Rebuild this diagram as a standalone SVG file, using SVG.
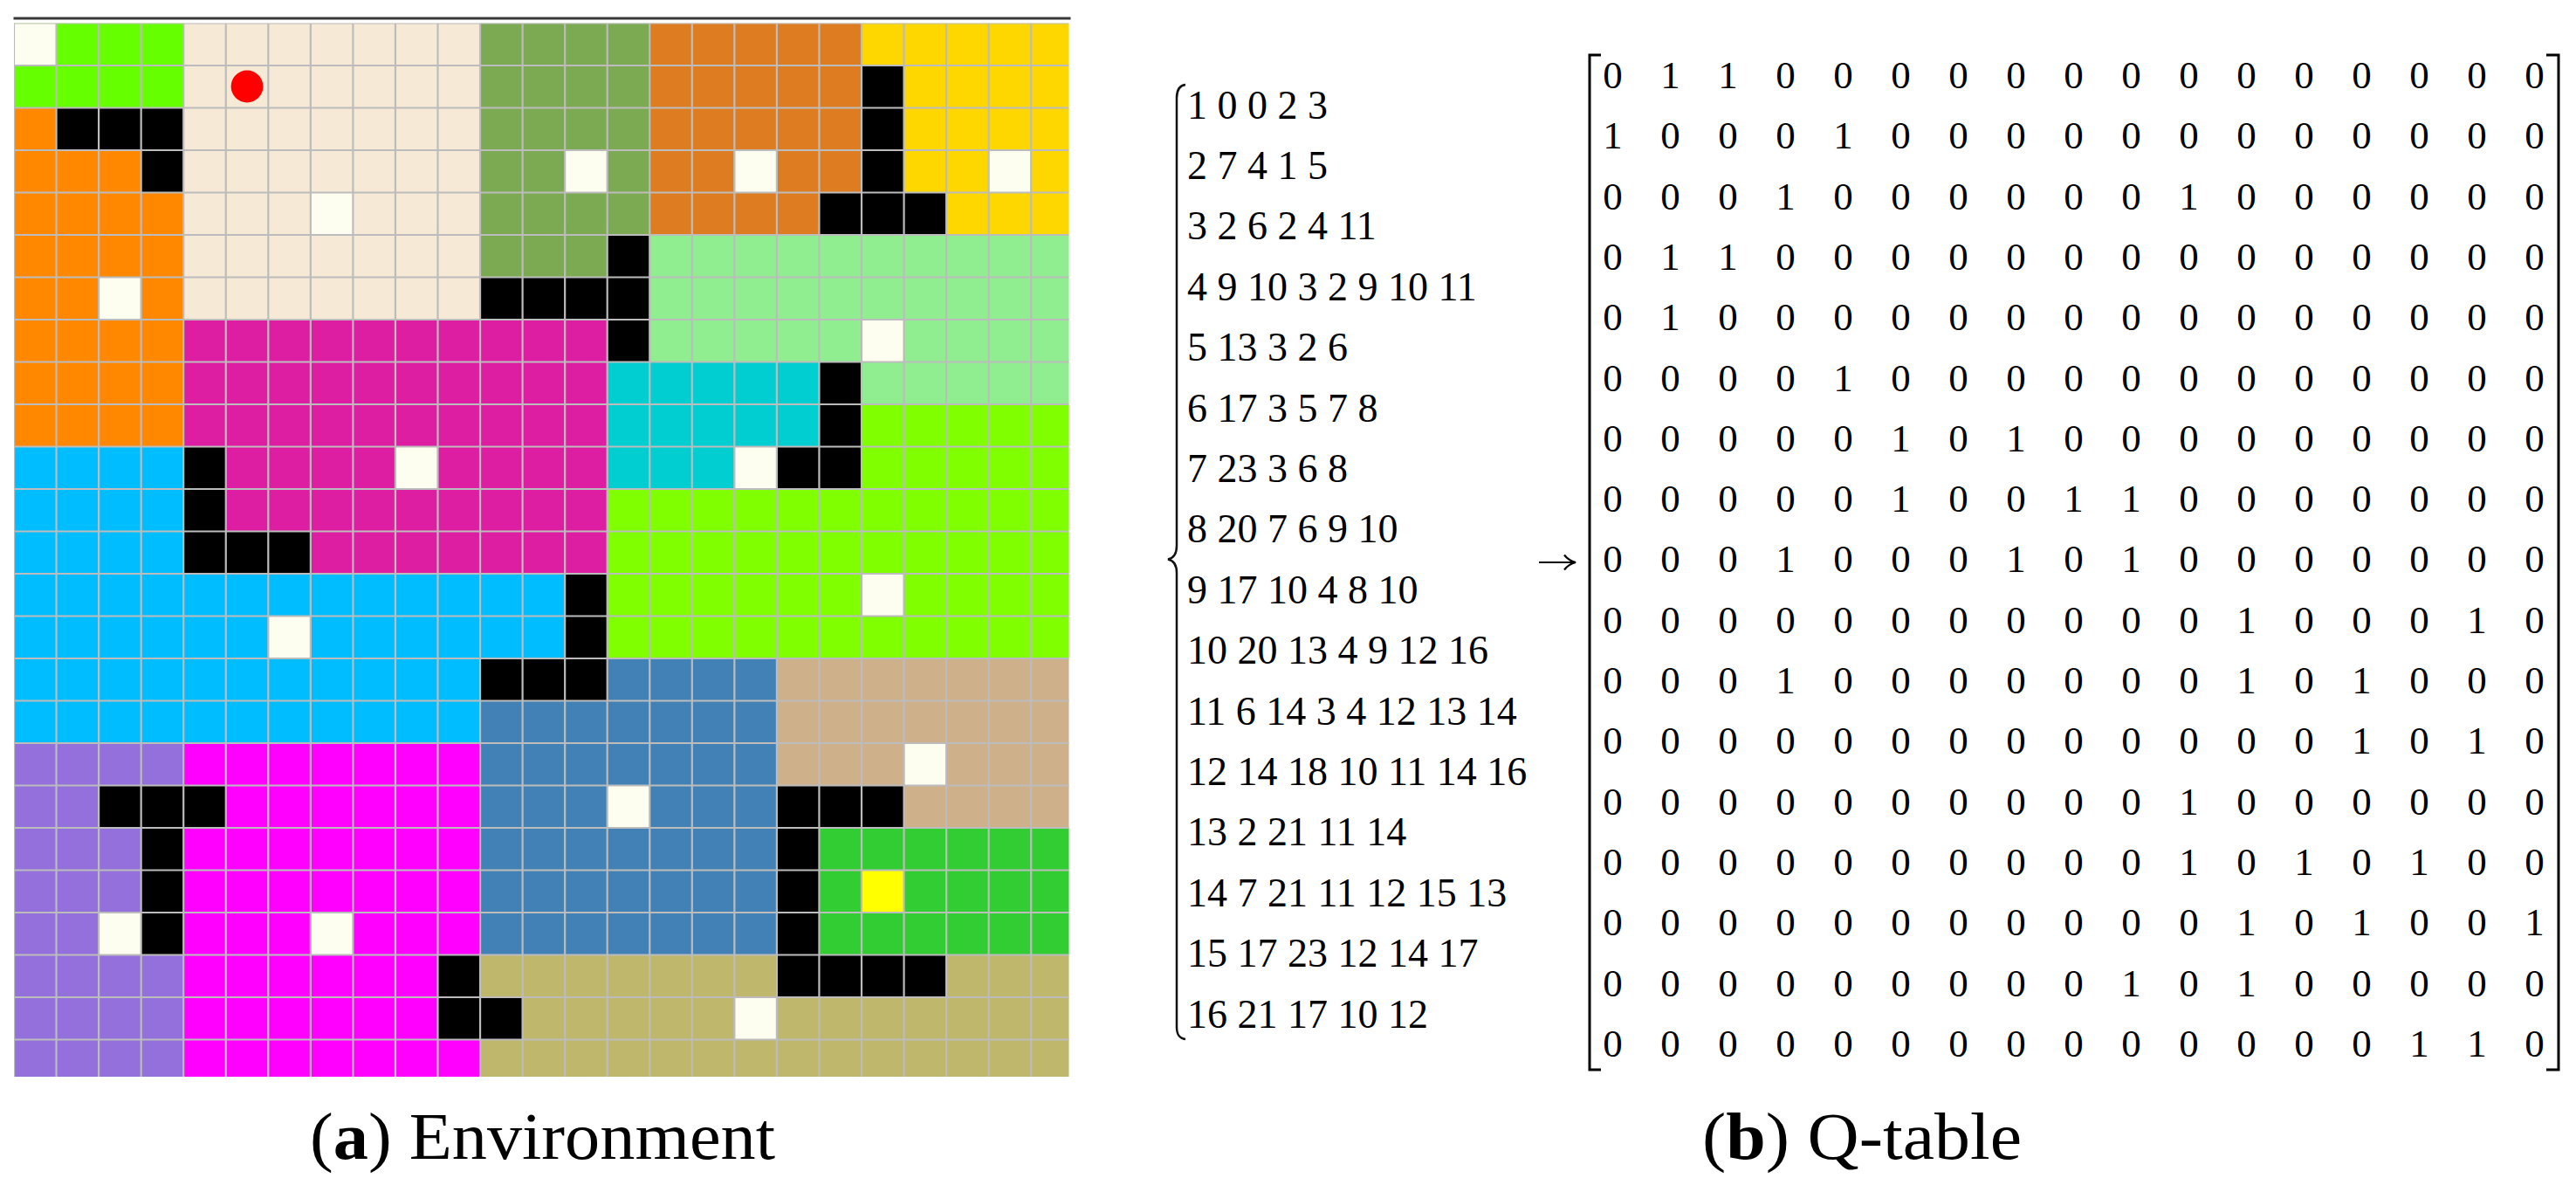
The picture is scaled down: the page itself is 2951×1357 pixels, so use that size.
<svg xmlns="http://www.w3.org/2000/svg" width="2951" height="1357" viewBox="0 0 2951 1357">
<style>
.W{fill:#FEFEF0}.G{fill:#66FF00}.B{fill:#F6E9D5}.O{fill:#7BAA52}.R{fill:#FF8800}.N{fill:#DE7C22}.Y{fill:#FFD700}.K{fill:#000}
.L{fill:#90EE90}.M{fill:#DE1EA2}.T{fill:#00CED1}.C{fill:#7FFF00}.S{fill:#00BDFF}.U{fill:#4281B5}.A{fill:#CEB18B}
.E{fill:#32CD32}.X{fill:#FFFF00}.H{fill:#BFB76C}.P{fill:#9370DB}.F{fill:#FF00FF}
.grid{fill:none;stroke:#BCBCBC;stroke-width:2.2px}
.lst{font-family:"Liberation Serif","Times New Roman",serif;font-size:46px;fill:#000}
.mx{font-family:"Liberation Serif","Times New Roman",serif;font-size:45px;fill:#000;text-anchor:middle}
.cap{font-family:"Liberation Serif","Times New Roman",serif;font-size:76px;fill:#000}
.br{fill:none;stroke:#000;stroke-width:3}
</style>
<defs>
<clipPath id="gclip"><rect x="16" y="26.5" width="1208.5" height="1206.5"/></clipPath>
</defs>
<rect width="2951" height="1357" fill="#fff"/>
<g id="environment">
<line x1="15.5" y1="21" x2="1226.5" y2="21" stroke="#383838" stroke-width="3"/>
<g clip-path="url(#gclip)">
<g transform="translate(16,26.5) scale(48.55,48.5)">
<rect class="G" x="0" y="0" width="4" height="2"/>
<rect class="B" x="4" y="0" width="7" height="7"/>
<rect class="O" x="11" y="0" width="4" height="6"/>
<rect class="N" x="15" y="0" width="5" height="5"/>
<rect class="Y" x="20" y="0" width="5" height="5"/>
<rect class="R" x="0" y="2" width="4" height="8"/>
<rect class="L" x="15" y="5" width="10" height="4"/>
<rect class="M" x="4" y="7" width="10" height="6"/>
<rect class="T" x="14" y="8" width="5" height="3"/>
<rect class="C" x="20" y="9" width="5" height="2"/>
<rect class="C" x="14" y="11" width="11" height="4"/>
<rect class="S" x="0" y="10" width="4" height="3"/>
<rect class="S" x="0" y="13" width="13" height="2"/>
<rect class="S" x="0" y="15" width="11" height="2"/>
<rect class="U" x="14" y="15" width="4" height="1"/>
<rect class="U" x="11" y="16" width="7" height="6"/>
<rect class="A" x="18" y="15" width="7" height="4"/>
<rect class="E" x="19" y="19" width="6" height="3"/>
<rect class="P" x="0" y="17" width="4" height="8"/>
<rect class="F" x="4" y="17" width="7" height="8"/>
<rect class="H" x="11" y="22" width="14" height="3"/>
<g class="K">
<rect x="20" y="1" width="1" height="3"/>
<rect x="1" y="2" width="3" height="1"/>
<rect x="3" y="3" width="1" height="1"/>
<rect x="19" y="4" width="3" height="1"/>
<rect x="14" y="5" width="1" height="3"/>
<rect x="11" y="6" width="3" height="1"/>
<rect x="19" y="8" width="1" height="3"/>
<rect x="18" y="10" width="1" height="1"/>
<rect x="4" y="10" width="1" height="3"/>
<rect x="5" y="12" width="2" height="1"/>
<rect x="13" y="13" width="1" height="3"/>
<rect x="11" y="15" width="2" height="1"/>
<rect x="2" y="18" width="3" height="1"/>
<rect x="3" y="19" width="1" height="3"/>
<rect x="18" y="18" width="3" height="1"/>
<rect x="18" y="19" width="1" height="4"/>
<rect x="19" y="22" width="3" height="1"/>
<rect x="10" y="22" width="1" height="2"/>
<rect x="11" y="23" width="1" height="1"/>
</g>
<g class="W">
<rect x="0" y="0" width="1" height="1"/>
<rect x="13" y="3" width="1" height="1"/>
<rect x="17" y="3" width="1" height="1"/>
<rect x="23" y="3" width="1" height="1"/>
<rect x="7" y="4" width="1" height="1"/>
<rect x="2" y="6" width="1" height="1"/>
<rect x="20" y="7" width="1" height="1"/>
<rect x="9" y="10" width="1" height="1"/>
<rect x="17" y="10" width="1" height="1"/>
<rect x="20" y="13" width="1" height="1"/>
<rect x="6" y="14" width="1" height="1"/>
<rect x="21" y="17" width="1" height="1"/>
<rect x="14" y="18" width="1" height="1"/>
<rect x="2" y="21" width="1" height="1"/>
<rect x="7" y="21" width="1" height="1"/>
<rect x="17" y="23" width="1" height="1"/>
</g>
<rect class="X" x="20" y="20" width="1" height="1"/>
<path class="grid" vector-effect="non-scaling-stroke" d="M0,0V25M1,0V25M2,0V25M3,0V25M4,0V25M5,0V25M6,0V25M7,0V25M8,0V25M9,0V25M10,0V25M11,0V25M12,0V25M13,0V25M14,0V25M15,0V25M16,0V25M17,0V25M18,0V25M19,0V25M20,0V25M21,0V25M22,0V25M23,0V25M24,0V25M0,0H25M0,1H25M0,2H25M0,3H25M0,4H25M0,5H25M0,6H25M0,7H25M0,8H25M0,9H25M0,10H25M0,11H25M0,12H25M0,13H25M0,14H25M0,15H25M0,16H25M0,17H25M0,18H25M0,19H25M0,20H25M0,21H25M0,22H25M0,23H25M0,24H25"/>
</g>
</g>
<circle cx="283" cy="99" r="18.4" fill="#FF0000"/>
</g>
<g id="state-list">
<path d="M1358,97 C1351,98 1348,103 1348,112 L1348,625 C1348,634 1345,639 1338,640.5 C1345,642 1348,647 1348,656 L1348,1176 C1348,1185 1351,1189 1358,1190" fill="none" stroke="#111" stroke-width="2.5"/>
<text class="lst" x="1360" y="135.5">1 0 0 2 3</text>
<text class="lst" x="1360" y="204.9">2 7 4 1 5</text>
<text class="lst" x="1360" y="274.3">3 2 6 2 4 11</text>
<text class="lst" x="1360" y="343.7">4 9 10 3 2 9 10 11</text>
<text class="lst" x="1360" y="413.1">5 13 3 2 6</text>
<text class="lst" x="1360" y="482.5">6 17 3 5 7 8</text>
<text class="lst" x="1360" y="551.9">7 23 3 6 8</text>
<text class="lst" x="1360" y="621.3">8 20 7 6 9 10</text>
<text class="lst" x="1360" y="690.7">9 17 10 4 8 10</text>
<text class="lst" x="1360" y="760.1">10 20 13 4 9 12 16</text>
<text class="lst" x="1360" y="829.5">11 6 14 3 4 12 13 14</text>
<text class="lst" x="1360" y="898.9">12 14 18 10 11 14 16</text>
<text class="lst" x="1360" y="968.3">13 2 21 11 14</text>
<text class="lst" x="1360" y="1037.7">14 7 21 11 12 15 13</text>
<text class="lst" x="1360" y="1107.1">15 17 23 12 14 17</text>
<text class="lst" x="1360" y="1176.5">16 21 17 10 12</text>
</g>
<g id="connectors">
<path d="M1763,644 H1804 M1792,635.5 Q1797,642 1805,644 Q1797,646 1792,652.5" fill="none" stroke="#000" stroke-width="2.2"/>
</g>
<g id="q-table">
<path class="br" d="M1834,63 H1821 V1225 H1834"/>
<path class="br" d="M2917,63 H2931 V1225 H2917"/>
<text class="mx" y="101" x="1847.5 1880.5 1913.5 1946.5 1979.5 2012.5 2045.5 2078.5 2111.5 2144.5 2177.5 2210.5 2243.5 2276.5 2309.5 2342.5 2375.5 2408.5 2441.5 2474.5 2507.5 2540.5 2573.5 2606.5 2639.5 2672.5 2705.5 2738.5 2771.5 2804.5 2837.5 2870.5 2903.5">0 1 1 0 0 0 0 0 0 0 0 0 0 0 0 0 0</text>
<text class="mx" y="170.3" x="1847.5 1880.5 1913.5 1946.5 1979.5 2012.5 2045.5 2078.5 2111.5 2144.5 2177.5 2210.5 2243.5 2276.5 2309.5 2342.5 2375.5 2408.5 2441.5 2474.5 2507.5 2540.5 2573.5 2606.5 2639.5 2672.5 2705.5 2738.5 2771.5 2804.5 2837.5 2870.5 2903.5">1 0 0 0 1 0 0 0 0 0 0 0 0 0 0 0 0</text>
<text class="mx" y="239.6" x="1847.5 1880.5 1913.5 1946.5 1979.5 2012.5 2045.5 2078.5 2111.5 2144.5 2177.5 2210.5 2243.5 2276.5 2309.5 2342.5 2375.5 2408.5 2441.5 2474.5 2507.5 2540.5 2573.5 2606.5 2639.5 2672.5 2705.5 2738.5 2771.5 2804.5 2837.5 2870.5 2903.5">0 0 0 1 0 0 0 0 0 0 1 0 0 0 0 0 0</text>
<text class="mx" y="308.9" x="1847.5 1880.5 1913.5 1946.5 1979.5 2012.5 2045.5 2078.5 2111.5 2144.5 2177.5 2210.5 2243.5 2276.5 2309.5 2342.5 2375.5 2408.5 2441.5 2474.5 2507.5 2540.5 2573.5 2606.5 2639.5 2672.5 2705.5 2738.5 2771.5 2804.5 2837.5 2870.5 2903.5">0 1 1 0 0 0 0 0 0 0 0 0 0 0 0 0 0</text>
<text class="mx" y="378.2" x="1847.5 1880.5 1913.5 1946.5 1979.5 2012.5 2045.5 2078.5 2111.5 2144.5 2177.5 2210.5 2243.5 2276.5 2309.5 2342.5 2375.5 2408.5 2441.5 2474.5 2507.5 2540.5 2573.5 2606.5 2639.5 2672.5 2705.5 2738.5 2771.5 2804.5 2837.5 2870.5 2903.5">0 1 0 0 0 0 0 0 0 0 0 0 0 0 0 0 0</text>
<text class="mx" y="447.5" x="1847.5 1880.5 1913.5 1946.5 1979.5 2012.5 2045.5 2078.5 2111.5 2144.5 2177.5 2210.5 2243.5 2276.5 2309.5 2342.5 2375.5 2408.5 2441.5 2474.5 2507.5 2540.5 2573.5 2606.5 2639.5 2672.5 2705.5 2738.5 2771.5 2804.5 2837.5 2870.5 2903.5">0 0 0 0 1 0 0 0 0 0 0 0 0 0 0 0 0</text>
<text class="mx" y="516.8" x="1847.5 1880.5 1913.5 1946.5 1979.5 2012.5 2045.5 2078.5 2111.5 2144.5 2177.5 2210.5 2243.5 2276.5 2309.5 2342.5 2375.5 2408.5 2441.5 2474.5 2507.5 2540.5 2573.5 2606.5 2639.5 2672.5 2705.5 2738.5 2771.5 2804.5 2837.5 2870.5 2903.5">0 0 0 0 0 1 0 1 0 0 0 0 0 0 0 0 0</text>
<text class="mx" y="586.1" x="1847.5 1880.5 1913.5 1946.5 1979.5 2012.5 2045.5 2078.5 2111.5 2144.5 2177.5 2210.5 2243.5 2276.5 2309.5 2342.5 2375.5 2408.5 2441.5 2474.5 2507.5 2540.5 2573.5 2606.5 2639.5 2672.5 2705.5 2738.5 2771.5 2804.5 2837.5 2870.5 2903.5">0 0 0 0 0 1 0 0 1 1 0 0 0 0 0 0 0</text>
<text class="mx" y="655.4" x="1847.5 1880.5 1913.5 1946.5 1979.5 2012.5 2045.5 2078.5 2111.5 2144.5 2177.5 2210.5 2243.5 2276.5 2309.5 2342.5 2375.5 2408.5 2441.5 2474.5 2507.5 2540.5 2573.5 2606.5 2639.5 2672.5 2705.5 2738.5 2771.5 2804.5 2837.5 2870.5 2903.5">0 0 0 1 0 0 0 1 0 1 0 0 0 0 0 0 0</text>
<text class="mx" y="724.7" x="1847.5 1880.5 1913.5 1946.5 1979.5 2012.5 2045.5 2078.5 2111.5 2144.5 2177.5 2210.5 2243.5 2276.5 2309.5 2342.5 2375.5 2408.5 2441.5 2474.5 2507.5 2540.5 2573.5 2606.5 2639.5 2672.5 2705.5 2738.5 2771.5 2804.5 2837.5 2870.5 2903.5">0 0 0 0 0 0 0 0 0 0 0 1 0 0 0 1 0</text>
<text class="mx" y="794" x="1847.5 1880.5 1913.5 1946.5 1979.5 2012.5 2045.5 2078.5 2111.5 2144.5 2177.5 2210.5 2243.5 2276.5 2309.5 2342.5 2375.5 2408.5 2441.5 2474.5 2507.5 2540.5 2573.5 2606.5 2639.5 2672.5 2705.5 2738.5 2771.5 2804.5 2837.5 2870.5 2903.5">0 0 0 1 0 0 0 0 0 0 0 1 0 1 0 0 0</text>
<text class="mx" y="863.3" x="1847.5 1880.5 1913.5 1946.5 1979.5 2012.5 2045.5 2078.5 2111.5 2144.5 2177.5 2210.5 2243.5 2276.5 2309.5 2342.5 2375.5 2408.5 2441.5 2474.5 2507.5 2540.5 2573.5 2606.5 2639.5 2672.5 2705.5 2738.5 2771.5 2804.5 2837.5 2870.5 2903.5">0 0 0 0 0 0 0 0 0 0 0 0 0 1 0 1 0</text>
<text class="mx" y="932.6" x="1847.5 1880.5 1913.5 1946.5 1979.5 2012.5 2045.5 2078.5 2111.5 2144.5 2177.5 2210.5 2243.5 2276.5 2309.5 2342.5 2375.5 2408.5 2441.5 2474.5 2507.5 2540.5 2573.5 2606.5 2639.5 2672.5 2705.5 2738.5 2771.5 2804.5 2837.5 2870.5 2903.5">0 0 0 0 0 0 0 0 0 0 1 0 0 0 0 0 0</text>
<text class="mx" y="1001.9" x="1847.5 1880.5 1913.5 1946.5 1979.5 2012.5 2045.5 2078.5 2111.5 2144.5 2177.5 2210.5 2243.5 2276.5 2309.5 2342.5 2375.5 2408.5 2441.5 2474.5 2507.5 2540.5 2573.5 2606.5 2639.5 2672.5 2705.5 2738.5 2771.5 2804.5 2837.5 2870.5 2903.5">0 0 0 0 0 0 0 0 0 0 1 0 1 0 1 0 0</text>
<text class="mx" y="1071.2" x="1847.5 1880.5 1913.5 1946.5 1979.5 2012.5 2045.5 2078.5 2111.5 2144.5 2177.5 2210.5 2243.5 2276.5 2309.5 2342.5 2375.5 2408.5 2441.5 2474.5 2507.5 2540.5 2573.5 2606.5 2639.5 2672.5 2705.5 2738.5 2771.5 2804.5 2837.5 2870.5 2903.5">0 0 0 0 0 0 0 0 0 0 0 1 0 1 0 0 1</text>
<text class="mx" y="1140.5" x="1847.5 1880.5 1913.5 1946.5 1979.5 2012.5 2045.5 2078.5 2111.5 2144.5 2177.5 2210.5 2243.5 2276.5 2309.5 2342.5 2375.5 2408.5 2441.5 2474.5 2507.5 2540.5 2573.5 2606.5 2639.5 2672.5 2705.5 2738.5 2771.5 2804.5 2837.5 2870.5 2903.5">0 0 0 0 0 0 0 0 0 1 0 1 0 0 0 0 0</text>
<text class="mx" y="1209.8" x="1847.5 1880.5 1913.5 1946.5 1979.5 2012.5 2045.5 2078.5 2111.5 2144.5 2177.5 2210.5 2243.5 2276.5 2309.5 2342.5 2375.5 2408.5 2441.5 2474.5 2507.5 2540.5 2573.5 2606.5 2639.5 2672.5 2705.5 2738.5 2771.5 2804.5 2837.5 2870.5 2903.5">0 0 0 0 0 0 0 0 0 0 0 0 0 0 1 1 0</text>
</g>
<g id="captions">
<text class="cap" x="355" y="1327" textLength="533" lengthAdjust="spacingAndGlyphs">(<tspan font-weight="bold">a</tspan>) Environment</text>
<text class="cap" x="1950" y="1327" textLength="366" lengthAdjust="spacingAndGlyphs">(<tspan font-weight="bold">b</tspan>) Q-table</text>
</g>
</svg>
